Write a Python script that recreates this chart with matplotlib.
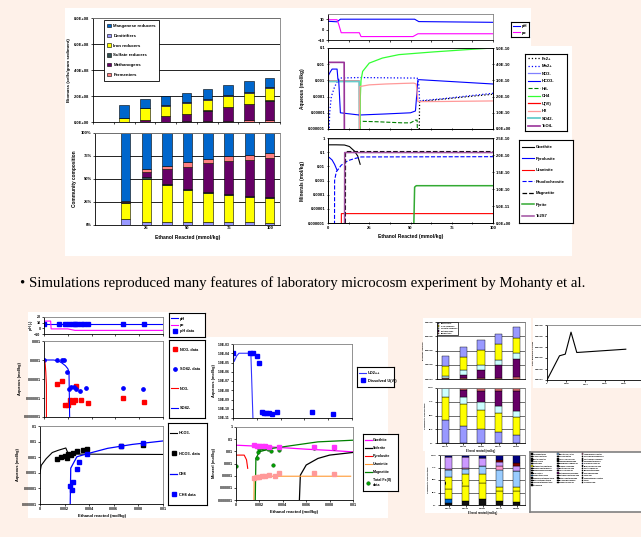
import numpy as np
import matplotlib.pyplot as plt
from matplotlib.patches import Rectangle, Patch
from matplotlib.ticker import NullLocator

W, H = 641, 537
BG = '#FEF1E9'

# ---------------- data: top-left (biomass, community) ----------------
eth_labels = ['', '', '25', '', '50', '', '75', '', '100']
# biomass in 1e8 cells, ethanol 12.5 ... 100 mmol/kg
bm_mang = [0.95, 0.70, 0.71, 0.72, 0.76, 0.77, 0.82, 0.71]
bm_denit = [0.03, 0.04, 0.06, 0.07, 0.04, 0.05, 0.06, 0.09]
bm_iron = [0.28, 0.86, 0.80, 0.82, 0.80, 0.85, 0.84, 0.91]
bm_sulf = [0.00, 0.02, 0.03, 0.03, 0.03, 0.03, 0.03, 0.04]
bm_meth = [0.02, 0.15, 0.40, 0.57, 0.81, 1.02, 1.26, 1.48]
bm_ferm = [0.00, 0.02, 0.03, 0.05, 0.07, 0.10, 0.12, 0.15]
# community composition (%)
cc_denit = [6, 3.5, 3.5, 3.5, 3, 3, 3, 2.2]
cc_iron = [18, 46.5, 40, 34, 31.5, 29.7, 27.5, 27]
cc_sulf = [0.5, 2, 1.5, 2, 1.5, 1.5, 1.5, 1.5]
cc_meth = [0.5, 5.5, 15.5, 24, 31, 35, 38.5, 42]
cc_ferm = [1, 3.5, 4, 5, 5, 5.5, 6, 6]
cc_mang = [74, 39, 35.5, 31.5, 28, 25.3, 23.5, 21.3]

# ---------------- data: top-right (mmol/kg ethanol) ----------------
ph_x = [0, 5.5, 7.5, 52.5, 55, 100]
ph_y = [8, 7.5, 10, 10, 7.7, 7.0]
pe_x = [0, 0.5, 5.5, 6.5, 8, 19, 20, 51.5, 54.5, 100]
pe_y = [13, 9.5, 9.5, 5, -3, -3, -6.7, -6.7, -4, -4]

fe2_x = [0, 55, 55.5, 70, 85, 100]
fe2_y = [1e-9, 1e-9, 5e-5, 7e-5, 1e-4, 1.4e-4]
mn2_x = [0, 1, 2, 4, 6, 7, 19, 50, 54, 55, 55.5, 70, 85, 100]
mn2_y = [1e-9, 1e-5, 1e-4, 4e-4, 1e-3, 1.4e-3, 1.5e-3, 1.4e-3, 1.4e-3, 6e-4, 5.5e-5, 7.5e-5, 1.1e-4, 1.6e-4]
no3_x = [0, 0.2, 0.4]
no3_y = [1e-3, 1e-3, 1e-9]
hco3_x = [0, 0.2, 1.5, 2.5, 5.5, 6, 6.5, 7.5, 19, 35, 50, 53, 54.5, 56, 100]
hco3_y = [1e-9, 2e-3, 3.5e-3, 5e-3, 5e-3, 1.2e-3, 1e-3, 1e-5, 7.3e-6, 8.5e-6, 1e-5, 1.3e-5, 1.1e-3, 1.1e-3, 6e-4]
hs_x = [19, 19.5, 30, 45, 50, 53, 54, 55]
hs_y = [1e-9, 3e-6, 2.8e-6, 2.4e-6, 2.4e-6, 3.5e-6, 3.5e-6, 1e-9]
ch4_x = [19.3, 19.6, 20, 21, 25, 33, 43, 63.6, 84, 100]
ch4_y = [1e-9, 1e-4, 1e-3, 3.6e-3, 1.17e-2, 2.4e-2, 3.9e-2, 5.7e-2, 7.9e-2, 0.1]
u6_x = [0, 19, 19.2]
u6_y = [9e-4, 9e-4, 1e-9]
h2_x = [19, 19.3, 25, 35, 45, 52, 53.5, 54.5, 56, 70, 85, 100]
h2_y = [1e-9, 4.2e-4, 5.3e-4, 6e-4, 6.5e-4, 6.8e-4, 6e-4, 5e-5, 4.9e-5, 5e-5, 5.2e-5, 5.4e-5]
so4_x = [0, 19, 19.2]
so4_y = [8.6e-4, 8.6e-4, 1e-9]
tco4_x = [0, 0.2, 9.8, 10]
tco4_y = [1e-9, 1.3e-2, 1.3e-2, 1e-9]

goe_x = [0, 5, 10, 13, 16, 18, 19.5]
goe_y = [0.33, 0.33, 0.32, 0.25, 0.12, 0.054, 0.014]
pyl_x = [0, 1, 2.5, 4, 5.5]
pyl_y = [0.048, 0.04, 0.028, 0.0137, 0.0053]
urn_x = [0, 8, 8.1, 100]
urn_y = [1e-9, 1e-9, 4.6e-6, 4.6e-6]
rho_x = [0, 3.9, 4.0, 5, 8, 12, 16, 20, 100]
rho_y = [1e-9, 1e-9, 1e-3, 4e-3, 0.012, 0.025, 0.035, 0.046, 0.048]
mag_x = [0, 10.5, 10.6, 100]
mag_y = [1e-9, 1e-9, 0.11, 0.11]
pyr_x = [0, 51.5, 52.5, 53.5, 100]
pyr_y = [1e-9, 1e-9, 3.4e-4, 4.3e-4, 4.3e-4]
tc_x = [0, 10, 10.1, 100]
tc_y = [1e-9, 1e-9, 0.094, 0.094]

# ---------------- data: bottom-left (mol/kg ethanol) ----------------
b_ph_x = [0, 0.01]
b_ph_y = [7.4, 7.4]
b_pe_x = [0, 0.00056, 0.0006, 0.002, 0.0026, 0.01]
b_pe_y = [12.8, 12.8, -1, -1, -3.6, -3.6]
phd_x = [0, 0.0013, 0.0018, 0.0021, 0.0024, 0.0026, 0.0028, 0.0031, 0.0034, 0.0037, 0.0066, 0.0084]
phd_y = [7.5, 7.4, 7.4, 7.3, 7.4, 7.4, 7.3, 7.4, 7.4, 7.3, 7.4, 7.3]

so4d_x = [0, 0.0011, 0.0015, 0.0017, 0.0019, 0.0021, 0.0023, 0.0025, 0.0027, 0.003, 0.0035, 0.0066, 0.0083]
so4d_y = [1.06e-4, 1.06e-4, 1.06e-4, 1.06e-4, 2.4e-5, 3.0e-6, 3.7e-6, 3.7e-6, 3.0e-6, 2.2e-6, 3.3e-6, 3.2e-6, 3.0e-6]
no3d_x = [0.0011, 0.0015, 0.0018, 0.002, 0.0022, 0.0024, 0.0026, 0.0027, 0.0031, 0.0037, 0.0066, 0.0084]
no3d_y = [5.5e-6, 8.2e-6, 4.4e-7, 4.4e-7, 7.4e-7, 6.5e-7, 7.4e-7, 4.3e-6, 7.9e-7, 5.3e-7, 1.05e-6, 5.8e-7]
no3m_x = [0, 0.00005, 0.0001, 0.00015, 0.0002, 0.00021]
no3m_y = [1e-4, 9e-5, 6e-5, 2.4e-5, 5e-6, 1e-9]
so4m_x = [0, 0.0008, 0.0012, 0.0015, 0.0018, 0.002, 0.0021, 0.0022]
so4m_y = [1e-4, 1e-4, 9e-5, 7e-5, 5e-5, 3.5e-5, 2.4e-5, 1e-9]

uo2_x = [0, 0.0001, 0.0003, 0.0005, 0.0015, 0.0017]
uo2_y = [1e-4, 1.3e-5, 5e-5, 1e-4, 1e-4, 1e-12]
ud_x = [0, 0.0014, 0.0017, 0.002, 0.0022, 0.0024, 0.0026, 0.0028, 0.003, 0.0033, 0.0037, 0.0066, 0.0084]
ud_y = [1e-4, 1e-4, 1e-4, 5e-5, 8.7e-6, 4e-11, 3.5e-11, 3.3e-11, 3.5e-11, 3e-11, 4.2e-11, 4.4e-11, 3e-11]

hco3m_x = [0, 0.0001, 0.0005, 0.001, 0.0015, 0.0021, 0.0023, 0.005, 0.01]
hco3m_y = [1e-4, 3e-4, 8e-4, 2e-3, 2.8e-3, 3.9e-3, 1.6e-3, 1.55e-3, 1.5e-3]
hco3d_x = [0.0014, 0.0017, 0.002, 0.0022, 0.0023, 0.0025, 0.0027, 0.003, 0.0035, 0.0038, 0.0066, 0.0084]
hco3d_y = [8.1e-4, 1e-3, 1.2e-3, 8.9e-4, 1.6e-3, 1.45e-3, 1.9e-3, 2.5e-3, 2.9e-3, 3.3e-3, 5.5e-3, 6.4e-3]
ch4m_x = [0.0024, 0.0025, 0.003, 0.004, 0.0055, 0.0075, 0.01]
ch4m_y = [1e-9, 2e-4, 1.07e-3, 1.8e-3, 3.7e-3, 6.6e-3, 1.1e-2]
ch4d_x = [0.0024, 0.0026, 0.0027, 0.003, 0.0032, 0.0038, 0.0066, 0.0084]
ch4d_y = [1.4e-5, 7.9e-6, 2.7e-5, 1.7e-4, 4.7e-4, 1.6e-3, 5.2e-3, 8.1e-3]

bgoe_x = [0, 0.002, 0.004, 0.006, 0.008, 0.01]
bgoe_y = [0.032, 0.026, 0.020, 0.015, 0.012, 0.009]
bsid_x = [0.0053, 0.0055, 0.006, 0.007, 0.008, 0.01]
bsid_y = [1e-9, 1.1e-4, 7.5e-4, 2.6e-3, 4.9e-3, 8.1e-3]
bpyl_x = [0, 0.0007, 0.0009, 0.001]
bpyl_y = [4.9e-3, 4.9e-3, 2e-3, 4e-4]
burn_x = [0.0015, 0.00155, 0.0098]
burn_y = [1e-9, 9e-5, 9e-5]
bmag_x = [0.0016, 0.0017, 0.002, 0.003, 0.005, 0.007, 0.01]
bmag_y = [1e-9, 2.6e-3, 9.2e-3, 1.7e-2, 3.2e-2, 6e-2, 8.2e-2]
fe2d_x = [0, 0.0018, 0.0019, 0.002, 0.0022, 0.0024, 0.0027, 0.003, 0.0032, 0.0037, 0.0067, 0.0084]
fe2d_y = [6.3e-4, 2.9e-3, 8.1e-3, 1.7e-2, 1.8e-2, 1.8e-2, 1.7e-2, 1.0e-2, 7.5e-4, 1.25e-2, 1.8e-2, 1.9e-2]
urd_x = [0.0015, 0.0018, 0.002, 0.0022, 0.0025, 0.0028, 0.0033, 0.0037, 0.0067, 0.0084]
urd_y = [6.2e-5, 7.5e-5, 8.5e-5, 9.6e-5, 9.6e-5, 1.05e-4, 1e-4, 1.75e-4, 1.75e-4, 1.3e-4]
goed_x = [0.0015, 0.0018, 0.002, 0.0022, 0.0025, 0.0028, 0.0037, 0.0067, 0.0084]
goed_y = [0.032, 0.027, 0.026, 0.027, 0.025, 0.024, 0.024, 0.022, 0.024]

# ---------------- data: bottom-right ----------------
s_pink = [0.05, 0.05, 0.05, 0.05, 0.12]
s_purple = [0.0, 0.24, 0.60, 0.95, 1.31]
s_cyan = [0.17, 0.31, 0.36, 0.36, 0.36]
s_yellow = [0.71, 0.95, 1.02, 1.07, 1.07]
s_lav = [0.71, 0.71, 0.71, 0.74, 0.76]
p_lav = [42, 31, 25, 20, 15]
p_yellow = [42, 40, 35, 35, 33]
p_cyan = [16, 13, 15, 12, 10]
p_purple = [0, 12, 20, 28, 37]
p_top = [0, 4, 5, 5, 5]
g_black = [5, 9, 13, 9, 7]
g_blue = [8, 0, 0, 0, 0]
g_yellow = [20, 30, 31, 20, 22]
g_ypat = [23, 23, 18, 7, 7]
g_lblue = [14, 10, 17, 35, 33]
g_pink = [3, 2, 0, 8, 0]
g_lilac = [24, 23, 15, 7, 10]
g_dred = [0, 0, 0, 5, 5]
g_navy = [3, 3, 6, 9, 16]
ln_x = [0, 0.0013, 0.0019, 0.0025, 0.0031, 0.0082]
ln_y = [0, 2.2, 2.35, 4.35, 2.5, 2.8]
taxa = ['Acidobacteria', 'Actinobacteria', 'Bacteroidetes', 'Chloroflexi', 'Clostridia',
        'Deltaproteobacteria', 'Desulfobacteraceae', 'Desulfovibrionaceae', 'Firmicutes',
        'Geobacteraceae', 'Gammaproteobacteria', 'Betaproteobacteria', 'Alphaproteobacteria',
        'Nitrospira', 'Planctomycetes', 'Spirochaetes', 'Verrucomicrobia', 'Comamonadaceae',
        'Pseudomonadaceae', 'Rhodocyclaceae', 'Peptococcaceae', 'Veillonellaceae',
        'Methanosarcinaceae', 'Methanobacteriaceae', 'Enterobacteriaceae', 'Burkholderiaceae',
        'Shewanellaceae', 'Anaeromyxobacter', 'Sphingomonadaceae', 'Xanthomonadaceae',
        'Caulobacteraceae', 'Lachnospiraceae', 'Ruminococcaceae', 'Syntrophaceae',
        'Pelobacteraceae', 'Holophagaceae', 'Chlorobi', 'Gemmatimonadetes', 'Other', 'Unclassified']

# ---------------- style ----------------
plt.rcParams['font.family'] = ['Liberation Sans', 'DejaVu Sans']
plt.rcParams['font.weight'] = 'bold'
plt.rcParams['axes.labelweight'] = 'bold'
plt.rcParams['axes.linewidth'] = 0.6
for a in ['xtick', 'ytick']:
    plt.rcParams[a + '.major.width'] = 0.5
    plt.rcParams[a + '.major.size'] = 1.5
    plt.rcParams[a + '.major.pad'] = 1
    plt.rcParams[a + '.minor.size'] = 0

C_MANG, C_DENIT, C_IRON = '#0066CC', '#9999FF', '#FFFF00'
C_SULF, C_METH, C_FERM = '#2F4F4F', '#660066', '#FF8080'

fig = plt.figure(figsize=(W / 100, H / 100), dpi=100, facecolor=BG)


def px(x0, y0, x1, y1):
    return [x0 / W, 1 - y1 / H, (x1 - x0) / W, (y1 - y0) / H]


def panel(x0, y0, x1, y1, ec='none'):
    fig.add_artist(Rectangle((x0 / W, 1 - y1 / H), (x1 - x0) / W, (y1 - y0) / H,
                             transform=fig.transFigure, fc='white', ec=ec, lw=0.6, zorder=-1))


def style(ax, fs=3.0):
    ax.tick_params(labelsize=fs)
    ax.spines['top'].set_color('#808080')
    ax.spines['right'].set_color('#808080')


def legend_box(rect, handles, labels, fs=3.0, spacing=1.0, hl=2.5):
    lax = fig.add_axes(px(*rect))
    lax.set_xticks([])
    lax.set_yticks([])
    for s in lax.spines.values():
        s.set_linewidth(0.8)
    lax.legend(handles, labels, loc='center left', fontsize=fs, frameon=False,
               labelspacing=spacing, handlelength=hl, handletextpad=0.4, borderaxespad=0.2)
    return lax


def log_axis(ax, lo, hi, labels):
    ax.set_yscale('log')
    ax.set_ylim(lo, hi)
    ticks = [10.0 ** e for e in range(int(round(np.log10(lo))), int(round(np.log10(hi))) + 1)]
    ax.set_yticks(ticks)
    ax.set_yticklabels(labels)
    ax.yaxis.set_minor_locator(NullLocator())


# white panels
panel(65, 8, 310, 256)
panel(305, 8, 531, 46)
panel(305, 46, 572, 256)
panel(28, 312, 206, 518)
panel(206, 337, 388, 420)
panel(206, 420, 388, 518)
panel(423, 318, 531, 451)
panel(425, 451, 530, 513)
panel(533, 318, 641, 388)

# ================= top-left: biomass =================
pos = np.arange(1, 9)
ax = fig.add_axes(px(93, 18, 280, 122))
style(ax)
bottom = np.zeros(8)
for vals, col, lab in [(bm_ferm, C_FERM, 'Fermenters'), (bm_meth, C_METH, 'Methanogens'),
                       (bm_sulf, C_SULF, 'Sulfate reducers'), (bm_iron, C_IRON, 'Iron reducers'),
                       (bm_denit, C_DENIT, 'Denitrifiers'), (bm_mang, C_MANG, 'Manganese reducers')]:
    v = np.array(vals) * 1e8
    ax.bar(pos, v, 0.45, bottom=bottom, color=col, edgecolor='black', lw=0.4, label=lab)
    bottom += v
ax.set_xlim(-0.5, 8.5)
ax.set_ylim(0, 8e8)
ax.set_yticks(np.arange(0, 8.1e8, 2e8))
ax.set_yticklabels([f'{v:.1E}' for v in np.arange(0, 8.1e8, 2e8)])
ax.set_xticks(np.arange(-0.5, 9, 1))
ax.set_xticklabels([])
ax.yaxis.grid(True, color='black', lw=0.6)
ax.set_axisbelow(True)
ax.set_ylabel('Biomass (cells/gram sediment)', fontsize=3.2, labelpad=2)
h, l = ax.get_legend_handles_labels()
leg = ax.legend(h[::-1], l[::-1], loc='upper left', bbox_to_anchor=(0.045, 1.0), fontsize=3.2,
                labelspacing=1.25, handlelength=0.8, handleheight=0.8, fancybox=False,
                edgecolor='black', borderpad=0.8, handletextpad=0.6, framealpha=1)
leg.get_frame().set_linewidth(0.6)

# ================= top-left: community =================
ax = fig.add_axes(px(95, 133, 280, 225))
style(ax)
bottom = np.zeros(8)
for vals, col in [(cc_denit, C_DENIT), (cc_iron, C_IRON), (cc_sulf, C_SULF),
                  (cc_meth, C_METH), (cc_ferm, C_FERM), (cc_mang, C_MANG)]:
    ax.bar(pos, vals, 0.45, bottom=bottom, color=col, edgecolor='black', lw=0.4)
    bottom += np.array(vals)
ax.set_xlim(-0.5, 8.5)
ax.set_ylim(0, 100)
ax.set_yticks([0, 25, 50, 75, 100])
ax.set_yticklabels(['0%', '25%', '50%', '75%', '100%'])
ax.set_xticks(np.arange(9))
ax.set_xticklabels(eth_labels)
ax.tick_params(axis='x', length=0)
ax.yaxis.grid(True, color='black', lw=0.6)
ax.set_axisbelow(True)
ax.set_ylabel('Community composition', fontsize=3.4, labelpad=3)
ax.set_xlabel('Ethanol Reacted (mmol/kg)', fontsize=3.6, labelpad=3)

# ================= top-right: pH / pe =================
ax = fig.add_axes(px(328, 14, 493, 40))
style(ax)
ax.plot(ph_x, ph_y, color='#0000FF', lw=0.8, label='pH')
ax.plot(pe_x, pe_y, color='#FF00FF', lw=0.8, label='pe')
ax.set_xlim(0, 100)
ax.set_ylim(-10, 15)
ax.set_yticks([-10, 0, 10])
ax.set_xticks(np.arange(0, 101, 12.5))
ax.set_xticklabels([])
h, l = ax.get_legend_handles_labels()
legend_box((511, 22, 529, 37), h, l, fs=3.0, spacing=0.5, hl=1.6)

# ================= top-right: aqueous =================
ax = fig.add_axes(px(328, 48, 493, 129))
ax.plot(fe2_x, fe2_y, color='black', ls=':', lw=0.9, label='Fe2+')
ax.plot(mn2_x, mn2_y, color='#0000FF', ls=':', lw=0.9, label='Mn2+')
ax.plot(no3_x, no3_y, color='#8080FF', lw=0.9, label='NO3-')
ax.plot(u6_x, u6_y, color='#FF0000', lw=0.9, label='U(VI)')
ax.plot(so4_x, so4_y, color='#66CCCC', lw=1.3, label='SO42-')
ax.plot(hco3_x, hco3_y, color='#0000FF', lw=0.8, label='HCO3-')
ax.plot(hs_x, hs_y, color='#008000', ls='--', lw=0.8, label='HS-')
ax.plot(ch4_x, ch4_y, color='#33FF33', lw=0.9, label='CH4')
ax.plot(h2_x, h2_y, color='#FF9999', lw=0.9, label='H2')
ax.plot(tco4_x, tco4_y, color='#993399', lw=1.2, label='TcO4-')
ax.set_xlim(0, 100)
log_axis(ax, 1e-6, 0.1, ['0.000001', '0.00001', '0.0001', '0.001', '0.01', '0.1'])
ax.set_xticks(np.arange(0, 101, 12.5))
ax.set_xticklabels([])
ax.tick_params(labelsize=3.0, direction='inout', length=2)
ax.spines['top'].set_color('#808080')
ax.set_ylabel('Aqueous (mol/kg)', fontsize=3.4, labelpad=2)
ax2 = ax.twinx()
ax2.set_ylim(0, 5e-10)
ax2.set_yticks(np.arange(0, 5.1e-10, 1e-10))
ax2.set_yticklabels([f'{v:.1E}' for v in np.arange(0, 5.1e-10, 1e-10)])
ax2.tick_params(labelsize=3.0, direction='inout', length=2)
h, l = ax.get_legend_handles_labels()
order = ['Fe2+', 'Mn2+', 'NO3-', 'HCO3-', 'HS-', 'CH4', 'U(VI)', 'H2', 'SO42-', 'TcO4-']
hd = dict(zip(l, h))
legend_box((525, 54, 567, 131), [hd[k] for k in order], order, fs=3.0, spacing=0.85, hl=3.0)

# ================= top-right: minerals =================
ax = fig.add_axes(px(328, 138, 493, 223))
ax.plot([0, 100], [1, 1], color='#BBBBBB', lw=2.0)
ax.plot(goe_x, goe_y, color='black', lw=0.8, label='Goethite')
ax.plot(pyl_x, pyl_y, color='#0000FF', lw=0.8, label='Pyrolusite')
ax.plot(urn_x, urn_y, color='#FF0000', lw=0.8, label='Uraninite')
ax.plot(rho_x, rho_y, color='#0000FF', ls='--', lw=0.8, label='Rhodochrosite')
ax.plot(mag_x, mag_y, color='black', ls='--', lw=0.9, label='Magnetite')
ax.plot(pyr_x, pyr_y, color='#33AA33', lw=1.1, label='Pyrite')
ax.plot(tc_x, tc_y, color='#A050A0', lw=1.1, label='Tc2S7')
ax.set_xlim(0, 100)
log_axis(ax, 1e-6, 1, ['0.000001', '0.00001', '0.0001', '0.001', '0.01', '0.1', '1'])
ax.set_xticks(np.arange(0, 101, 12.5))
ax.set_xticklabels(['0', '', '25', '', '50', '', '75', '', '100'])
ax.tick_params(labelsize=3.0, direction='inout', length=2)
ax.spines['top'].set_color('#BBBBBB')
ax.set_ylabel('Minerals (mol/kg)', fontsize=3.4, labelpad=2)
ax.set_xlabel('Ethanol Reacted (mmol/kg)', fontsize=3.6, labelpad=3)
ax2 = ax.twinx()
ax2.set_ylim(0, 2.5e-10)
ax2.set_yticks(np.arange(0, 2.6e-10, 5e-11))
ax2.set_yticklabels([f'{v:.1E}' for v in np.arange(0, 2.6e-10, 5e-11)])
ax2.tick_params(labelsize=3.0, direction='inout', length=2)
h, l = ax.get_legend_handles_labels()
legend_box((519, 140, 573, 223), h, l, fs=3.0, spacing=1.8, hl=3.0)

# ================= text line =================
fig.text(20 / W, 1 - 283 / H,
         '\u2022 Simulations reproduced many features of laboratory microcosm experiment by Mohanty et al.',
         fontsize=10.6, family='Liberation Serif', weight='normal', va='center', ha='left')

# ================= bottom-left =================
xt = np.arange(0, 0.0101, 0.002)
xtl = ['0', '0.002', '0.004', '0.006', '0.008', '0.01']

ax = fig.add_axes(px(44, 317, 163, 334))
style(ax, 2.6)
ax.plot(b_ph_x, b_ph_y, color='#0000FF', lw=0.8, label='pH')
ax.plot(b_pe_x, b_pe_y, color='#FF00FF', lw=0.8, label='pe')
ax.plot(phd_x, phd_y, 's', color='#0000FF', ms=2.2, label='pH data')
ax.set_xlim(0, 0.01)
ax.set_ylim(-10, 20)
ax.set_yticks([-10, 0, 10, 20])
ax.set_xticks(xt)
ax.set_xticklabels([])
ax.set_ylabel('pH (-)', fontsize=2.6, labelpad=1)
h, l = ax.get_legend_handles_labels()
legend_box((169, 313, 205, 337), h, l, fs=2.8, spacing=0.6, hl=1.8)

ax = fig.add_axes(px(44, 341, 163, 417))
style(ax, 2.6)
ax.plot(no3d_x, no3d_y, 's', color='#FF0000', ms=2.4, label='NO3- data')
ax.plot(so4d_x, so4d_y, 'o', color='#0000FF', ms=2.4, label='SO42- data')
ax.plot(no3m_x, no3m_y, color='#FF0000', lw=0.8, label='NO3-')
ax.plot(so4m_x, so4m_y, color='#0000FF', lw=0.8, label='SO42-')
ax.set_xlim(0, 0.01)
log_axis(ax, 1e-7, 1e-3, ['0.0000001', '0.000001', '0.00001', '0.0001', '0.001'])
ax.set_xticks(xt)
ax.set_xticklabels([])
ax.set_ylabel('Aqueous (mol/kg)', fontsize=2.8, labelpad=1)
h, l = ax.get_legend_handles_labels()
legend_box((169, 340, 205, 418), h, l, fs=2.8, spacing=4.0, hl=1.8)

ax = fig.add_axes(px(233, 344, 352, 418))
style(ax, 2.4)
ax.plot(uo2_x, uo2_y, color='#3333FF', lw=0.8, label='UO2++')
ax.plot(ud_x, ud_y, 's', color='#0000FF', ms=2.4, label='Dissolved U(VI)')
ax.set_xlim(0, 0.01)
log_axis(ax, 1e-11, 1e-3, [f'1.0E-{k:02d}' for k in range(11, 2, -1)])
ax.set_xticks(xt)
ax.set_xticklabels([])
ax.set_ylabel('Aqueous (mol/kg)', fontsize=2.8, labelpad=1)
h, l = ax.get_legend_handles_labels()
legend_box((357, 367, 394, 387), h, l, fs=2.8, spacing=0.8, hl=1.8)

ax = fig.add_axes(px(40, 426, 163, 504))
style(ax, 2.6)
ax.plot(hco3m_x, hco3m_y, color='black', lw=0.8, label='HCO3-')
ax.plot(hco3d_x, hco3d_y, 's', color='black', ms=2.4, label='HCO3- data')
ax.plot(ch4m_x, ch4m_y, color='#0000FF', lw=0.9, label='CH4')
ax.plot(ch4d_x, ch4d_y, 's', color='#0000FF', ms=2.4, label='CH4 data')
ax.set_xlim(0, 0.01)
log_axis(ax, 1e-6, 0.1, ['0.000001', '0.00001', '0.0001', '0.001', '0.01', '0.1'])
ax.set_xticks(xt)
ax.set_xticklabels(xtl)
ax.set_ylabel('Aqueous (mol/kg)', fontsize=2.8, labelpad=1)
ax.set_xlabel('Ethanol reacted (mol/kg)', fontsize=3.0, labelpad=2)
h, l = ax.get_legend_handles_labels()
legend_box((168, 423, 207, 505), h, l, fs=2.8, spacing=4.2, hl=1.8)

ax = fig.add_axes(px(236, 427, 353, 500))
style(ax, 2.6)
ax.plot(bgoe_x, bgoe_y, color='#FF00FF', lw=0.9, label='Goethite')
ax.plot(bsid_x, bsid_y, color='black', lw=0.9, label='Siderite')
ax.plot(bpyl_x, bpyl_y, color='#FF0000', lw=0.8, label='Pyrolusite')
ax.plot(burn_x, burn_y, color='#FF9933', lw=0.8, label='Uraninite')
ax.plot(bmag_x, bmag_y, color='#008000', lw=0.9, label='Magnetite')
ax.plot(fe2d_x, fe2d_y, 'o', color='#00A000', mec='#005000', mew=0.3, ms=2.6, label='Total Fe(II)\ndata')
ax.plot(urd_x, urd_y, 's', color='#FF9999', ms=2.2)
ax.plot(goed_x, goed_y, 's', color='#FF33FF', ms=2.2)
ax.set_xlim(0, 0.01)
log_axis(ax, 1e-6, 1, ['0.000001', '0.00001', '0.0001', '0.001', '0.01', '0.1', '1'])
ax.set_xticks(xt)
ax.set_xticklabels(xtl)
ax.set_ylabel('Mineral (mol/kg)', fontsize=2.8, labelpad=1)
ax.set_xlabel('Ethanol reacted (mol/kg)', fontsize=3.0, labelpad=2)
h, l = ax.get_legend_handles_labels()
legend_box((363, 434, 398, 491), h, l, fs=2.6, spacing=1.1, hl=1.8)

# ================= bottom-right =================
bpos = np.arange(5)
ax = fig.add_axes(px(437, 322, 525, 379))
style(ax, 1.6)
bottom = np.zeros(5)
for vals, col, lab in [(s_pink, C_FERM, 'Fermenters'), (s_purple, C_METH, 'Methanogens'),
                       (s_cyan, '#CCFFFF', 'Sulfate reducers'), (s_yellow, C_IRON, 'Iron reducers'),
                       (s_lav, C_DENIT, 'Denitrifiers')]:
    ax.bar(bpos, vals, 0.4, bottom=bottom, color=col, edgecolor='black', lw=0.3, label=lab)
    bottom += np.array(vals)
ax.set_xlim(-0.5, 4.5)
ax.set_ylim(0, 4)
ax.set_yticks([0, 1, 2, 3, 4])
ax.set_yticklabels(['0.0E+00', '1.0E+08', '2.0E+08', '3.0E+08', '4.0E+08'])
ax.set_xticks([])
ax.yaxis.grid(True, color='black', lw=0.4)
ax.set_axisbelow(True)
ax.set_ylabel('Biomass (cells/g)', fontsize=1.6, labelpad=1)
h, l = ax.get_legend_handles_labels()
lg = ax.legend(h[::-1], l[::-1], loc='upper left', fontsize=1.5, fancybox=False, edgecolor='black',
               framealpha=1, handlelength=0.6, handleheight=0.6, labelspacing=0.5, borderaxespad=0.1)
lg.get_frame().set_linewidth(0.5)

ax = fig.add_axes(px(437, 388, 525, 443))
style(ax, 1.6)
bottom = np.zeros(5)
for vals, col in [(p_lav, C_DENIT), (p_yellow, C_IRON), (p_cyan, '#CCFFFF'),
                  (p_purple, C_METH), (p_top, '#CC6666')]:
    ax.bar(bpos, vals, 0.4, bottom=bottom, color=col, edgecolor='black', lw=0.3)
    bottom += np.array(vals)
ax.set_xlim(-0.5, 4.5)
ax.set_ylim(0, 100)
ax.set_yticks([0, 25, 50, 75, 100])
ax.set_yticklabels(['0%', '25%', '50%', '75%', '100%'])
ax.set_xticks(bpos)
ax.set_xticklabels(['0.0013', '0.0019', '0.0025', '0.0031', '0.0082'])
ax.yaxis.grid(True, color='black', lw=0.4)
ax.set_axisbelow(True)
ax.set_ylabel('Community composition', fontsize=1.6, labelpad=1)
ax.set_xlabel('Ethanol reacted (mol/kg)', fontsize=1.8, labelpad=1)

ax = fig.add_axes(px(440, 455, 525, 505))
style(ax, 1.6)
bottom = np.zeros(5)
for vals, col, hatch in [(g_black, '#111111', None), (g_blue, '#0066CC', None),
                         (g_yellow, '#FFFF00', None), (g_ypat, '#FFFF00', 'o'),
                         (g_lblue, '#99CCFF', None), (g_pink, '#FF99CC', None),
                         (g_lilac, '#CC99FF', None), (g_dred, '#800000', None),
                         (g_navy, '#000080', None)]:
    ax.bar(bpos, vals, 0.4, bottom=bottom, color=col, edgecolor='black', lw=0.3, hatch=hatch)
    bottom += np.array(vals)
ax.set_xlim(-0.5, 4.5)
ax.set_ylim(0, 100)
ax.set_yticks([0, 25, 50, 75, 100])
ax.set_yticklabels(['0%', '25%', '50%', '75%', '100%'])
ax.set_xticks(bpos)
ax.set_xticklabels(['0.0013', '0.0019', '0.0025', '0.0031', '0.0082'])
ax.yaxis.grid(True, color='black', lw=0.4)
ax.set_axisbelow(True)
ax.set_ylabel('Community composition', fontsize=1.6, labelpad=1)
ax.set_xlabel('Ethanol reacted (mol/kg)', fontsize=1.8, labelpad=1)

ax = fig.add_axes(px(547, 325, 645, 380))
style(ax, 1.6)
ax.plot(ln_x, ln_y, color='black', lw=0.8)
ax.set_xlim(0, 0.0102)
ax.set_ylim(0, 5)
ax.set_xticks(np.arange(0, 0.0081, 0.002))
ax.set_xticklabels(['0', '0.002', '0.004', '0.006', '0.008'])
ax.set_yticks(np.arange(0, 5.1, 1))
ax.set_yticklabels(['0.0E+00', '1.0E+08', '2.0E+08', '3.0E+08', '4.0E+08', '5.0E+08'])
ax.set_ylabel('Total biomass (cells/g)', fontsize=1.6, labelpad=1)

tax_cols = ['#000000'] * len(taxa)
for i, c in zip([5, 9, 14, 20, 22, 27, 31], ['#FFFF00', '#0066CC', '#99CCFF', '#CC99FF', '#660066', '#FF99CC', '#000080']):
    tax_cols[i] = c
handles = [Patch(fc=c, ec='black', lw=0.3) for c in tax_cols]
lax = fig.add_axes(px(530, 452, 645, 512))
lax.set_xticks([])
lax.set_yticks([])
for s in lax.spines.values():
    s.set_color('#808080')
    s.set_linewidth(1.2)
lax.legend(handles, taxa, loc='upper left', ncol=3, fontsize=1.5, frameon=False,
           handlelength=0.7, handleheight=0.7, labelspacing=0.45, columnspacing=0.8,
           handletextpad=0.3, borderaxespad=0.2)

fig.savefig('out.png', dpi=100, facecolor=BG)
